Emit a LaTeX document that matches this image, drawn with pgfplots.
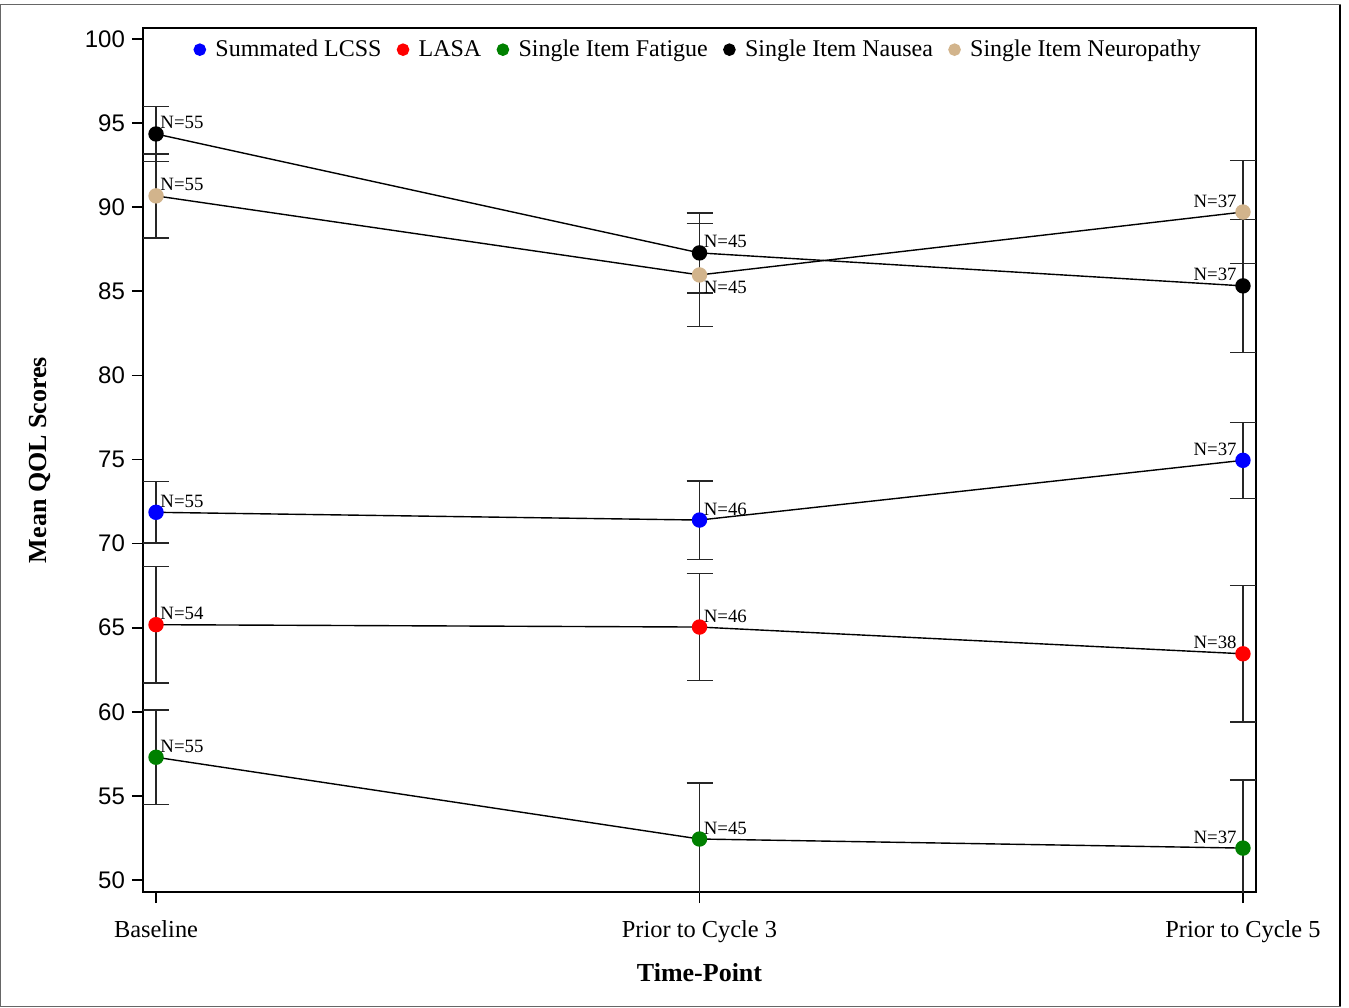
\documentclass[border=0pt]{standalone}
\usepackage{fontspec}
\setmainfont{Liberation Serif}
\newfontfamily\ticksans{Liberation Sans}
\usepackage{pgfplots}
\pgfplotsset{compat=1.18}
\definecolor{tanc}{RGB}{210,180,140}
\definecolor{grn}{RGB}{0,128,0}
\begin{document}
\begin{tikzpicture}
\begin{axis}[
  name=ax,
  scale only axis,
  width=556.5pt, height=432pt,
  xmin=-0.024, xmax=2.024,
  ymin=49.29, ymax=100.65,
  axis line style={line width=1pt},
  tick pos=left, tick align=outside,
  major tick length=5.5pt,
  tick style={line width=0.8pt, black},
  xtick={0,1,2},
  xticklabels={Baseline, Prior to Cycle 3, Prior to Cycle 5},
  ytick={50,55,...,100},
  /pgf/number format/assume math mode=true,
  xticklabel style={font=\fontsize{12.2}{14}\selectfont, yshift=-5pt},
  yticklabel style={font=\fontsize{12}{14}\selectfont\ticksans, xshift=0pt},
  xlabel={\textbf{Time-Point}},
  ylabel={\textbf{Mean QOL Scores}},
  every axis x label/.style={at={(axis description cs:0.5,-0.0937)}, anchor=center, font=\fontsize{13}{15}\selectfont},
  every axis y label/.style={at={(axis description cs:-0.0925,0.5)}, rotate=90, anchor=center, font=\fontsize{13}{15}\selectfont},
  legend columns=-1,
  legend style={at={(0.5,0.996)}, anchor=north, draw=none, fill=none,
    font=\fontsize{12}{14}\selectfont,
    /tikz/every odd column/.append style={column sep=3pt},
    /tikz/every even column/.append style={column sep=6pt}},
  every axis plot/.append style={line width=0.7pt},
  error bars/y dir=both, error bars/y explicit,
  error bars/error bar style={line width=0.7pt, black!85},
  error bars/error mark options={rotate=90, mark size=6.5pt, line width=0.7pt, black!85},
]
\addlegendimage{only marks, mark=*, mark size=2.8pt, mark options={fill=blue, draw=blue}}\addlegendentry{Summated LCSS}
\addlegendimage{only marks, mark=*, mark size=2.8pt, mark options={fill=red, draw=red}}\addlegendentry{LASA}
\addlegendimage{only marks, mark=*, mark size=2.8pt, mark options={fill=grn, draw=grn}}\addlegendentry{Single Item Fatigue}
\addlegendimage{only marks, mark=*, mark size=2.8pt, mark options={fill=black, draw=black}}\addlegendentry{Single Item Nausea}
\addlegendimage{only marks, mark=*, mark size=2.8pt, mark options={fill=tanc, draw=tanc}}\addlegendentry{Single Item Neuropathy}
% Nausea
\addplot[black, mark=*, mark size=3.5pt, mark options={fill=black, draw=black}] coordinates {
  (0,94.35) +- (0,1.65)
  (1,87.28) +- (0,2.38)
  (2,85.32) +- (0,3.95)
};
% Neuropathy
\addplot[black, mark=*, mark size=3.5pt, mark options={fill=tanc, draw=tanc}] coordinates {
  (0,90.67) +- (0,2.50)
  (1,85.97) +- (0,3.07)
  (2,89.71) +- (0,3.05)
};
% Summated LCSS
\addplot[black, mark=*, mark size=3.5pt, mark options={fill=blue, draw=blue}] coordinates {
  (0,71.86) +- (0,1.83)
  (1,71.40) +- (0,2.33)
  (2,74.95) +- (0,2.26)
};
% LASA
\addplot[black, mark=*, mark size=3.5pt, mark options={fill=red, draw=red}] coordinates {
  (0,65.18) +- (0,3.47)
  (1,65.04) +- (0,3.19)
  (2,63.45) +- (0,4.06)
};
% Fatigue
\addplot[black, mark=*, mark size=3.5pt, mark options={fill=grn, draw=grn}] coordinates {
  (0,57.30) +- (0,2.80)
  (1,52.44) +- (0,3.34)
  (2,51.90) +- (0,4.04)
};
% N labels
\begin{scope}[every node/.style={font=\fontsize{9.4}{10}\selectfont, inner sep=0pt}]
\node[anchor=base west, xshift=2pt, yshift=2.5pt] at (axis cs:0,94.35) {N=55};
\node[anchor=base west, xshift=2pt, yshift=2.5pt] at (axis cs:0,90.67) {N=55};
\node[anchor=base west, xshift=2pt, yshift=2.5pt] at (axis cs:0,71.86) {N=55};
\node[anchor=base west, xshift=2pt, yshift=2.5pt] at (axis cs:0,65.18) {N=54};
\node[anchor=base west, xshift=2pt, yshift=2.5pt] at (axis cs:0,57.30) {N=55};
\node[anchor=base west, xshift=2pt, yshift=2.5pt] at (axis cs:1,87.28) {N=45};
\node[anchor=base west, xshift=2pt, yshift=-9.5pt] at (axis cs:1,85.97) {N=45};
\node[anchor=base west, xshift=2pt, yshift=2.5pt] at (axis cs:1,71.40) {N=46};
\node[anchor=base west, xshift=2pt, yshift=2.5pt] at (axis cs:1,65.04) {N=46};
\node[anchor=base west, xshift=2pt, yshift=2.5pt] at (axis cs:1,52.44) {N=45};
\node[anchor=base east, xshift=-3pt, yshift=2.5pt] at (axis cs:2,89.71) {N=37};
\node[anchor=base east, xshift=-3pt, yshift=2.5pt] at (axis cs:2,85.32) {N=37};
\node[anchor=base east, xshift=-3pt, yshift=2.5pt] at (axis cs:2,74.95) {N=37};
\node[anchor=base east, xshift=-3pt, yshift=2.5pt] at (axis cs:2,63.45) {N=38};
\node[anchor=base east, xshift=-3pt, yshift=2.5pt] at (axis cs:2,51.90) {N=37};
\end{scope}
\end{axis}
\draw[black!60, line width=0.5pt] ([shift={(-71pt,-57pt)}]ax.south west) rectangle ([shift={(598.5pt,443.5pt)}]ax.south west);
\draw[black, line width=1pt] ([shift={(598.5pt,-57pt)}]ax.south west) -- ([shift={(598.5pt,443.5pt)}]ax.south west);
\path[use as bounding box] ([shift={(-71.5pt,-57.5pt)}]ax.south west) rectangle ([shift={(603pt,446pt)}]ax.south west);
\end{tikzpicture}
\end{document}
